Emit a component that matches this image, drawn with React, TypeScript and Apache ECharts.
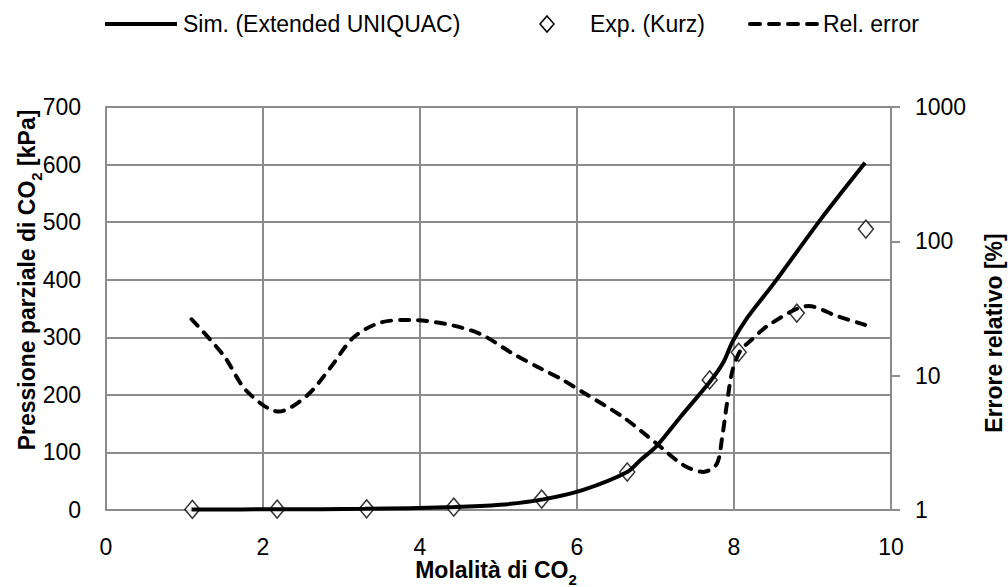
import React, { useEffect, useRef } from "react";
import * as echarts from "echarts";

// Exp. (Kurz): molality of CO2 vs partial pressure [kPa]
const expX = [1.1, 2.18, 3.32, 4.43, 5.55, 6.64, 7.69, 8.06, 8.8, 9.68];
const expY = [1, 1.5, 2, 5, 19, 66, 226, 274, 342, 488];

// Sim. (Extended UNIQUAC) curve
const simX = [1.09, 2.2, 3.3, 4.44, 5.02, 5.55, 6.08, 6.64, 6.81, 7.02, 7.32, 7.7, 7.87, 7.98, 8.17, 8.51, 9.1, 9.67];
const simY = [1, 1.2, 2, 5, 9, 18, 35, 66, 87, 112, 162, 224, 258, 292, 334, 394, 504, 603];

// Rel. error [%] curve (log axis)
const errX = [1.09, 1.5, 1.79, 2.2, 2.56, 2.86, 3.15, 3.49, 3.88, 4.34, 4.77, 5.19, 5.55, 5.79, 6.08, 6.59, 7.02, 7.36, 7.61, 7.78, 7.85, 7.91, 7.98, 8.08, 8.21, 8.46, 8.95, 9.31, 9.67];
const errY = [26.3, 14.1, 7.7, 5.4, 7.1, 11.5, 19.2, 24.8, 26, 24.2, 20.4, 14.5, 11.2, 9.5, 7.5, 4.9, 3.1, 2.15, 1.92, 2.2, 3.5, 6.2, 10.9, 15.3, 18.2, 24.2, 33, 27.8, 23.9];

const seriesNames = ["Sim. (Extended UNIQUAC)", "Exp. (Kurz)", "Rel. error"];

const FONT = "'Liberation Sans', Arial, sans-serif";
const GRID = "#8c8c8c";

export default function App() {
  const ref = useRef<HTMLDivElement>(null);
  useEffect(() => {
    if (!ref.current) return;
    const chart = echarts.init(ref.current, null, { renderer: "svg" });
    const zip = (xs: number[], ys: number[]) => xs.map((x, i) => [x, ys[i]]);
    const titleRich = {
      b: { fontSize: 23, fontWeight: "bold", fontFamily: FONT, color: "#000", lineHeight: 34, verticalAlign: "middle" },
      s: { fontSize: 15, fontWeight: "bold", fontFamily: FONT, color: "#000", lineHeight: 34, verticalAlign: "bottom" },
    };
    const legendFont = { fontSize: 23, fontFamily: FONT, fill: "#000" };
    const LY = 24;
    chart.setOption({
      animation: false,
      backgroundColor: "#fff",
      grid: { left: 106, right: 117, top: 107, bottom: 77 },
      xAxis: {
        type: "value",
        min: 0,
        max: 10,
        interval: 2,
        axisLine: { show: true, lineStyle: { color: GRID, width: 2 } },
        axisTick: { show: false },
        axisLabel: { margin: 25, fontSize: 23, fontFamily: FONT, color: "#000" },
        splitLine: { show: true, lineStyle: { color: GRID, width: 2 } },
      },
      yAxis: [
        {
          type: "value",
          min: 0,
          max: 700,
          interval: 100,
          axisLine: { show: true, lineStyle: { color: GRID, width: 2 } },
          axisTick: { show: false },
          axisLabel: { margin: 25, fontSize: 23, fontFamily: FONT, color: "#000" },
          splitLine: { show: true, lineStyle: { color: GRID, width: 2 } },
        },
        {
          type: "log",
          logBase: 10,
          min: 1,
          max: 1000,
          position: "right",
          axisLine: { show: true, lineStyle: { color: GRID, width: 2 } },
          axisTick: { show: true, inside: false, length: 9, lineStyle: { color: GRID, width: 2 } },
          minorTick: { show: false },
          axisLabel: {
            margin: 24,
            fontSize: 23,
            fontFamily: FONT,
            color: "#000",
            formatter: (v: number) => String(Math.round(v)),
          },
          splitLine: { show: false },
        },
      ],
      graphic: [
        // legend
        { type: "line", shape: { x1: 105, y1: LY, x2: 177, y2: LY }, style: { stroke: "#000", lineWidth: 4 } },
        { type: "text", x: 183, y: LY, style: { text: seriesNames[0], ...legendFont, verticalAlign: "middle", align: "left" } },
        {
          type: "polygon",
          shape: { points: [[547, LY - 8], [554, LY], [547, LY + 8], [540, LY]] },
          style: { fill: "#fff", stroke: "#000", lineWidth: 1.5 },
        },
        { type: "text", x: 590, y: LY, style: { text: seriesNames[1], ...legendFont, verticalAlign: "middle", align: "left" } },
        {
          type: "line",
          shape: { x1: 750, y1: LY, x2: 817, y2: LY },
          style: { stroke: "#000", lineWidth: 4, lineDash: [10, 9], lineCap: "round" },
        },
        { type: "text", x: 823, y: LY, style: { text: seriesNames[2], ...legendFont, verticalAlign: "middle", align: "left" } },
        // axis titles
        {
          type: "text",
          x: 27,
          y: 280,
          rotation: Math.PI / 2,
          style: {
            text: "{b|Pressione parziale di CO}{s|2}{b| [kPa]}",
            rich: titleRich,
            align: "center",
            verticalAlign: "middle",
          },
        },
        {
          type: "text",
          x: 994,
          y: 333,
          rotation: Math.PI / 2,
          style: {
            text: "{b|Errore relativo [%]}",
            rich: titleRich,
            align: "center",
            verticalAlign: "middle",
          },
        },
        {
          type: "text",
          x: 496,
          y: 570,
          style: {
            text: "{b|Molalità di CO}{s|2}",
            rich: titleRich,
            align: "center",
            verticalAlign: "middle",
          },
        },
      ],
      series: [
        {
          name: seriesNames[1],
          type: "scatter",
          data: zip(expX, expY),
          symbol: "diamond",
          symbolSize: [15, 18],
          itemStyle: { color: "#fff", borderColor: "#000", borderWidth: 1.5 },
          z: 2,
        },
        {
          name: seriesNames[0],
          type: "line",
          data: zip(simX, simY),
          smooth: 0.3,
          showSymbol: false,
          symbol: "none",
          lineStyle: { color: "#000", width: 4 },
          itemStyle: { color: "#000" },
          z: 3,
        },
        {
          name: seriesNames[2],
          type: "line",
          yAxisIndex: 1,
          data: zip(errX, errY),
          smooth: 0.3,
          showSymbol: false,
          symbol: "none",
          lineStyle: { color: "#000", width: 4, type: [9, 9], cap: "round" },
          itemStyle: { color: "#000" },
          z: 3,
        },
      ],
    });
    return () => chart.dispose();
  }, []);
  return <div ref={ref} style={{ width: 1008, height: 587, position: "absolute", left: 0, top: 0 }} />;
}
